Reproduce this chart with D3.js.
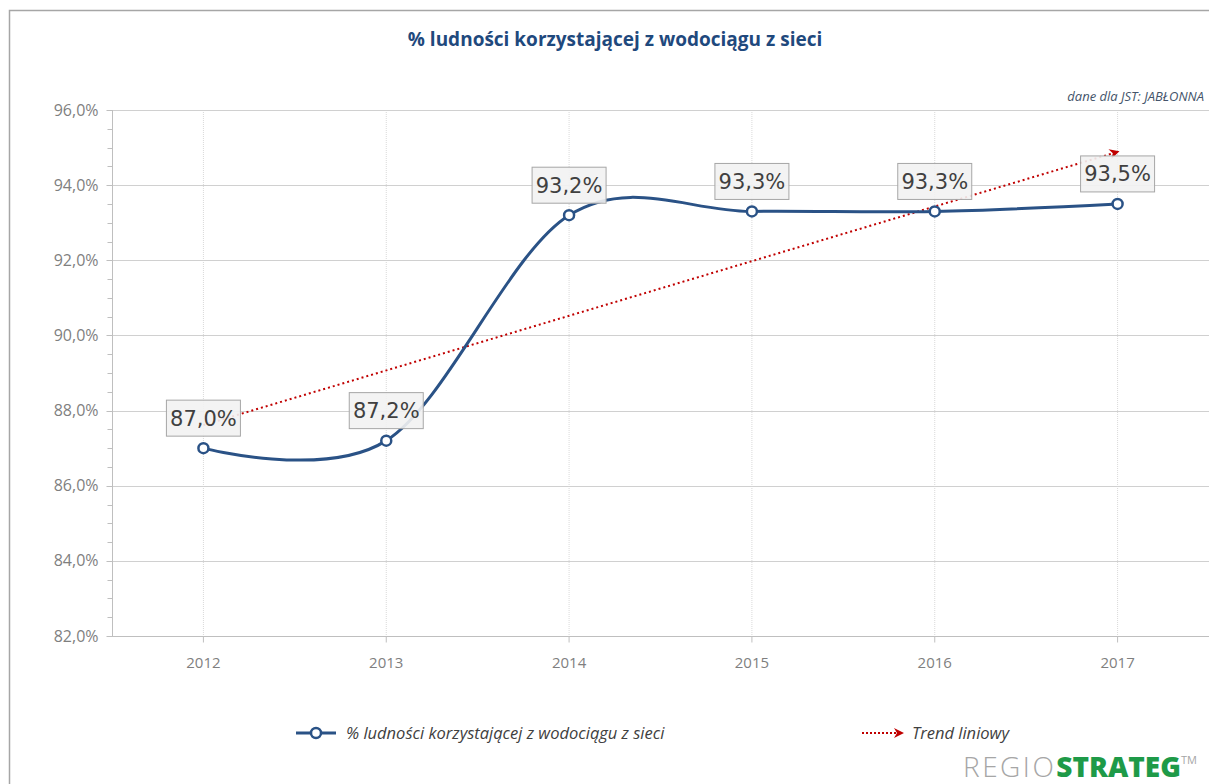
<!DOCTYPE html>
<html>
<head>
<meta charset="utf-8">
<script src="https://cdn.jsdelivr.net/npm/d3@7"></script>
<style>
  body { margin: 0; background: #fff; }
  svg { display: block; font-family: "Open Sans", sans-serif; }
</style>
</head>
<body>
<div id="chart"></div>
<script>
// data
const years = ['2012', '2013', '2014', '2015', '2016', '2017'];
const values = [87.0, 87.2, 93.2, 93.3, 93.3, 93.5];
const yTicks = [82, 84, 86, 88, 90, 92, 94, 96];
const yMinor = [82.5, 83, 83.5, 84.5, 85, 85.5, 86.5, 87, 87.5, 88.5, 89, 89.5,
  90.5, 91, 91.5, 92.5, 93, 93.5, 94.5, 95, 95.5];
const seriesName = '% ludności korzystającej z wodociągu z sieci';
const trendName = 'Trend liniowy';
const titleText = '% ludności korzystającej z wodociągu z sieci';
const noteText = 'dane dla JST:  JABŁONNA';

const width = 1209, height = 784;
const plotL = 112, plotR = 1209, plotT = 110, plotB = 636;
const lineColor = '#2a5286', trendColor = '#c00000';

const fmt = v => d3.format('.1f')(v).replace('.', ',') + '%';

const svg = d3.select('#chart').append('svg')
  .attr('width', width)
  .attr('height', height);

const defs = svg.append('defs');
defs.append('marker')
  .attr('id', 'arrow')
  .attr('viewBox', '0 0 10 10')
  .attr('refX', 8).attr('refY', 5)
  .attr('markerWidth', 12).attr('markerHeight', 10)
  .attr('markerUnits', 'userSpaceOnUse')
  .attr('orient', 'auto')
  .append('path')
  .attr('d', 'M0,0 L10,5 L0,10 L3,5 Z')
  .attr('fill', trendColor);

// frame (left + top only)
svg.append('path')
  .attr('d', 'M9.5,784 L9.5,10.5 L1209,10.5')
  .attr('fill', 'none')
  .attr('stroke', '#a6a6a6')
  .attr('stroke-width', 1.5);

const x = d3.scaleBand().domain(years).range([plotL, plotR]);
const cx = d => x(d) + x.bandwidth() / 2;
const y = d3.scaleLinear().domain([82, 96]).range([plotB, plotT]);

// vertical grid (light dotted)
svg.append('g').selectAll('line')
  .data(years)
  .join('line')
  .attr('x1', d => cx(d)).attr('x2', d => cx(d))
  .attr('y1', plotT).attr('y2', plotB)
  .attr('stroke', '#d9d9d9')
  .attr('stroke-dasharray', '1,1');

// horizontal grid
svg.append('g').selectAll('line')
  .data(yTicks.slice(1))
  .join('line')
  .attr('x1', plotL).attr('x2', plotR)
  .attr('y1', d => Math.round(y(d)) + 0.5).attr('y2', d => Math.round(y(d)) + 0.5)
  .attr('stroke', '#d0d0d0');

// y axis
const yAxis = svg.append('g').attr('transform', `translate(${plotL + 0.5},0)`);
yAxis.append('line')
  .attr('y1', plotT).attr('y2', plotB)
  .attr('stroke', '#bfbfbf');
yAxis.selectAll('.major')
  .data(yTicks)
  .join('line')
  .attr('x1', -6).attr('x2', 0)
  .attr('y1', d => Math.round(y(d)) + 0.5).attr('y2', d => Math.round(y(d)) + 0.5)
  .attr('stroke', '#bfbfbf');
yAxis.selectAll('.minor')
  .data(yMinor)
  .join('line')
  .attr('x1', -5).attr('x2', 0)
  .attr('y1', d => Math.round(y(d)) + 0.5).attr('y2', d => Math.round(y(d)) + 0.5)
  .attr('stroke', '#bfbfbf');
yAxis.selectAll('text')
  .data(yTicks)
  .join('text')
  .attr('x', -14)
  .attr('y', d => y(d))
  .attr('dy', '0.35em')
  .attr('text-anchor', 'end')
  .attr('fill', '#7f7f7f')
  .attr('font-size', 16)
  .text(fmt);

// x axis
const xAxis = svg.append('g').attr('transform', `translate(0,${plotB + 0.5})`);
xAxis.append('line')
  .attr('x1', plotL).attr('x2', plotR)
  .attr('stroke', '#bfbfbf');
xAxis.selectAll('line.t')
  .data(years)
  .join('line')
  .attr('class', 't')
  .attr('x1', d => cx(d)).attr('x2', d => cx(d))
  .attr('y1', 0).attr('y2', 6)
  .attr('stroke', '#bfbfbf');
xAxis.selectAll('text')
  .data(years)
  .join('text')
  .attr('x', d => cx(d))
  .attr('y', 31)
  .attr('text-anchor', 'middle')
  .attr('fill', '#7f7f7f')
  .attr('font-size', 15)
  .text(d => d);

// linear trend from the series
const idx = values.map((v, i) => i);
const mx = d3.mean(idx), my = d3.mean(values);
const slope = d3.sum(idx, i => (i - mx) * (values[i] - my)) / d3.sum(idx, i => (i - mx) ** 2);
const icpt = my - slope * mx;
const trend = [0, years.length - 1].map(i => [cx(years[i]), y(icpt + slope * i)]);

svg.append('line')
  .attr('x1', trend[0][0]).attr('y1', trend[0][1])
  .attr('x2', trend[1][0]).attr('y2', trend[1][1])
  .attr('stroke', trendColor)
  .attr('stroke-width', 2)
  .attr('stroke-dasharray', '2,3')
  .attr('marker-end', 'url(#arrow)');

// smoothed series line
const line = d3.line()
  .x((d, i) => cx(years[i]))
  .y(d => y(d))
  .curve(d3.curveCardinal.tension(0));

svg.append('path')
  .datum(values)
  .attr('d', line)
  .attr('fill', 'none')
  .attr('stroke', lineColor)
  .attr('stroke-width', 3);

// data labels
const labels = svg.append('g');
values.forEach((v, i) => {
  const g = labels.append('g')
    .attr('transform', `translate(${cx(years[i])},${y(v) - 30})`);
  g.append('rect')
    .attr('x', -37).attr('y', -18)
    .attr('width', 74).attr('height', 36)
    .attr('fill', '#f2f2f2')
    .attr('fill-opacity', 0.9)
    .attr('stroke', '#a6a6a6');
  g.append('text')
    .attr('text-anchor', 'middle')
    .attr('dy', '0.36em')
    .attr('fill', '#404040')
    .attr('font-family', '"DejaVu Sans", sans-serif')
    .attr('font-size', 21)
    .text(fmt(v));
});

// markers
svg.append('g').selectAll('circle')
  .data(values)
  .join('circle')
  .attr('cx', (d, i) => cx(years[i]))
  .attr('cy', d => y(d))
  .attr('r', 5)
  .attr('fill', '#fff')
  .attr('stroke', lineColor)
  .attr('stroke-width', 2.5);

// title and note
svg.append('text')
  .attr('x', 615).attr('y', 46)
  .attr('text-anchor', 'middle')
  .attr('fill', '#1f497d')
  .attr('font-size', 19)
  .attr('font-weight', 'bold')
  .text(titleText);

svg.append('text')
  .attr('x', 1204).attr('y', 101)
  .attr('text-anchor', 'end')
  .attr('fill', '#44546a')
  .attr('font-size', 13)
  .attr('font-style', 'italic')
  .text(noteText);

// legend
const lg = svg.append('g').attr('transform', 'translate(0,733)');
lg.append('line')
  .attr('x1', 296).attr('x2', 336)
  .attr('stroke', lineColor).attr('stroke-width', 3);
lg.append('circle')
  .attr('cx', 316).attr('r', 5)
  .attr('fill', '#fff').attr('stroke', lineColor).attr('stroke-width', 2.5);
lg.append('text')
  .attr('x', 346).attr('dy', '0.35em')
  .attr('fill', '#404040').attr('font-size', 16.5).attr('font-style', 'italic')
  .text(seriesName);
lg.append('line')
  .attr('x1', 862).attr('x2', 902)
  .attr('stroke', trendColor).attr('stroke-width', 2)
  .attr('stroke-dasharray', '2,2')
  .attr('marker-end', 'url(#arrow)');
lg.append('text')
  .attr('x', 912).attr('dy', '0.35em')
  .attr('fill', '#404040').attr('font-size', 16.5).attr('font-style', 'italic')
  .text(trendName);

// logo
const logo = svg.append('text')
  .attr('x', 963).attr('y', 777)
  .attr('font-family', '"Open Sans", sans-serif')
  .attr('font-size', 28);
logo.append('tspan').attr('fill', '#a6a6a6').attr('font-weight', 300)
  .attr('letter-spacing', 2.5).text('REGIO');
logo.append('tspan').attr('fill', '#1e9a48').attr('font-weight', 800).text('STRATEG');
logo.append('tspan').attr('fill', '#a6a6a6').attr('font-size', 11).attr('dy', -13).text('TM');
</script>
</body>
</html>
